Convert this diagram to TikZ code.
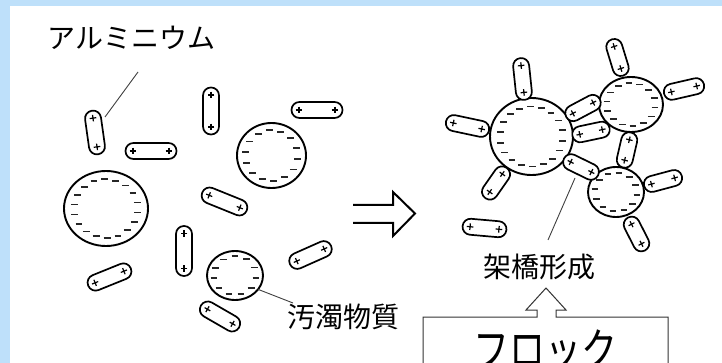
\documentclass[tikz,border=0pt]{standalone}
\usepackage{fontspec}
\newfontfamily\jpfont{Noto Sans CJK JP}
\usetikzlibrary{shapes.geometric}
\definecolor{skyband}{RGB}{190,224,250}

\tikzset{
  particle/.style={ellipse, draw=black, fill=white, line width=1.9pt, inner sep=0pt, outer sep=0pt},
  minusmark/.style={line width=1.8pt, line cap=butt, draw=black!85},
  plusmark/.style={line width=1.2pt},
  rodline/.style={draw=black, fill=white, line width=1.7pt, rounded corners=7.9pt},
  leader/.style={draw=black!75, line width=0.9pt},
  jplabel/.style={font=\jpfont\fontsize{28pt}{30pt}\selectfont, inner sep=0pt},
  biglabel/.style={font=\jpfont\fontsize{36pt}{38pt}\selectfont, inner sep=0pt, yscale=1.3, transform shape},
  outline/.style={draw=black!80, line width=1pt},
  pics/rod/.style={code={
    \path[rodline] ({-#1/2},-8) rectangle ({#1/2},8);
    \draw[plusmark] ({-#1/2+7.5},0) +(-3.3,0) -- +(3.3,0) +(0,-3.3) -- +(0,3.3);
    \draw[plusmark] ({#1/2-7.5},0) +(-3.3,0) -- +(3.3,0) +(0,-3.3) -- +(0,3.3);
  }},
}

% a charged particle: name, x, y, x radius, y radius, number of minus marks
\newcommand{\charged}[6]{%
  \node[particle, minimum width=#4*2pt, minimum height=#5*2pt] (#1) at (#2,#3) {};
  \foreach \k in {1,...,#6}
    \draw[minusmark] ([shift={({0.76*#4*cos(360*\k/#6+8)},{0.78*#5*sin(360*\k/#6+8)})}]#1.center) +(-3.4,0) -- +(3.4,0);
}

\begin{document}
\begin{tikzpicture}[x=1pt,y=-1pt]
\useasboundingbox (0,0) rectangle (722,363);
\fill[skyband] (0,0) rectangle (722,363);
\fill[white] (10,6) rectangle (722,363);

% dispersed state
\charged{F}{106}{208.5}{42}{37.5}{18}
\charged{E}{271.5}{155.5}{34.5}{32.5}{14}
\charged{J}{235}{275.5}{28}{24.5}{11}

\pic[rotate=-82] at (95,132.5) {rod=44};
\pic at (151,151) {rod=51};
\pic[rotate=-90] at (211,111) {rod=47};
\pic at (317,110) {rod=51};
\pic[rotate=-22] at (224.5,201.5) {rod=48};
\pic[rotate=-90] at (184,251) {rod=50};
\pic[rotate=22] at (109.5,277) {rod=46};
\pic[rotate=-30] at (220,316.5) {rod=44};
\pic[rotate=24] at (310.5,255) {rod=45};

% bridged flocs
\charged{M}{531.5}{136.5}{41.5}{38.5}{18}
\charged{N}{631}{104.5}{32}{27.5}{14}
\charged{O}{616}{192}{28}{25}{12}

\pic[rotate=-84] at (522.5,79) {rod=42};
\pic[rotate=-12] at (467.5,126) {rod=44};
\pic[rotate=55] at (496,183) {rod=37};
\pic[rotate=-5] at (484.5,228) {rod=44};
\pic[rotate=28] at (583,108) {rod=38};
\pic[rotate=12] at (591,132) {rod=38};
\pic[rotate=-26] at (581,167) {rod=38};
\pic[rotate=-103] at (627,150) {rod=36};
\pic[rotate=-73] at (617.5,57.5) {rod=38};
\pic[rotate=13] at (684,89) {rod=41};
\pic[rotate=15] at (663,181) {rod=39};
\pic[rotate=-63] at (636.5,234) {rod=37};

% transition arrow
\draw[line width=2pt, miter limit=10] (353,205) -- (393,205) -- (393,192) -- (415,213.5) -- (393,236) -- (393,223) -- (353,223);

% labels and leader lines
\node[jplabel] (alu) at (131.5,37.5) {アルミニウム};
\coordinate (aluFoot) at (138,72);
\coordinate (aluTip) at (105,117);
\draw[leader] (aluFoot) -- (aluTip);

\node[jplabel] (dirt) at (343,316.5) {汚濁物質};
\coordinate (dirtTip) at (293,303);
\draw[leader] (J.-31) -- (dirtTip);

\node[jplabel] (bridge) at (539.5,266.5) {架橋形成};
\coordinate (bridgeTop) at (575,178);
\coordinate (bridgeFoot) at (548,240);
\draw[leader] (bridgeTop) -- (bridgeFoot);

% floc box with hollow arrow pointing up to the label
\node[biglabel, anchor=north] (floc) at (545.5,329) {フロック};
\draw[outline] (423,370) -- (423,317) -- (537,317) -- (537,310) -- (526,310)
  -- (546,288) -- (566,310) -- (556,310) -- (556,317) -- (668,317) -- (668,370);
\end{tikzpicture}
\end{document}
